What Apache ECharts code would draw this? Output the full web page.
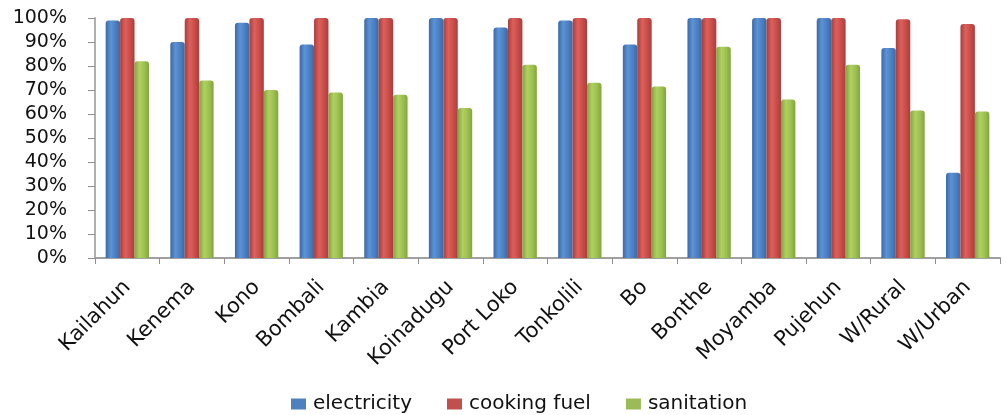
<!DOCTYPE html>
<html>
<head>
<meta charset="utf-8">
<script src="https://cdn.jsdelivr.net/npm/echarts@6/dist/echarts.min.js"></script>
<style>
  html, body { margin: 0; padding: 0; background: #ffffff; }
  #chart { width: 1006px; height: 415px; }
</style>
</head>
<body>
<div id="chart"></div>
<script>
// Household access by district (% of households)
const districts = ['Kailahun', 'Kenema', 'Kono', 'Bombali', 'Kambia', 'Koinadugu', 'Port Loko',
  'Tonkolili', 'Bo', 'Bonthe', 'Moyamba', 'Pujehun', 'W/Rural', 'W/Urban'];
const electricity = [99, 90, 98, 89, 100, 100, 96, 99, 89, 100, 100, 100, 87.5, 35.5];
const cookingFuel = [100, 100, 100, 100, 100, 100, 100, 100, 100, 100, 100, 100, 99.5, 97.5];
const sanitation = [82, 74, 70, 69, 68, 62.5, 80.5, 73, 71.5, 88, 66, 80.5, 61.5, 61];
const yTicks = [0, 10, 20, 30, 40, 50, 60, 70, 80, 90, 100];

// cylinder-like shading across each bar
function shade(dark, mid, light) {
  return {
    type: 'linear', x: 0, y: 0, x2: 1, y2: 0,
    colorStops: [
      { offset: 0, color: dark },
      { offset: 0.35, color: light },
      { offset: 0.7, color: mid },
      { offset: 1, color: dark }
    ]
  };
}

const seriesDefs = [
  { name: 'electricity', data: electricity, base: '#4F81BD', fill: shade('#3c6aa3', '#4a7fc1', '#5b93d6') },
  { name: 'cooking fuel', data: cookingFuel, base: '#C0504D', fill: shade('#a83e3b', '#c94c49', '#dc605c') },
  { name: 'sanitation', data: sanitation, base: '#9BBB59', fill: shade('#82a43f', '#9bc04e', '#b0d062') }
];

const chart = echarts.init(document.getElementById('chart'), null, { renderer: 'canvas' });
chart.setOption({
  animation: false,
  backgroundColor: '#ffffff',
  color: seriesDefs.map(s => s.base),
  grid: { left: 95, right: 6, top: 18, bottom: 157 },
  legend: {
    top: 389,
    left: 286,
    itemWidth: 15,
    itemHeight: 11,
    itemGap: 35,
    icon: 'rect',
    textStyle: { fontFamily: 'DejaVu Sans', fontSize: 20, color: '#111', padding: [0, 0, 0, 2] },
    data: seriesDefs.map(s => ({ name: s.name, itemStyle: { color: s.base } }))
  },
  xAxis: {
    type: 'category',
    data: districts,
    axisLine: { lineStyle: { color: '#a0a0a0', width: 2 } },
    axisTick: { show: true, length: 6, lineStyle: { color: '#909090' } },
    axisLabel: {
      rotate: 45,
      interval: 0,
      margin: 26,
      fontFamily: 'DejaVu Sans',
      fontSize: 21,
      color: '#111'
    }
  },
  yAxis: {
    type: 'value',
    min: 0,
    max: 100,
    interval: 10,
    splitLine: { show: false },
    axisLine: { show: true, lineStyle: { color: '#b0b0b0', width: 2 } },
    axisTick: { show: true, length: 7, lineStyle: { color: '#909090' } },
    axisLabel: {
      margin: 28,
      fontFamily: 'DejaVu Sans',
      fontSize: 19,
      color: '#111',
      formatter: v => (yTicks.includes(v) ? v + '%' : '')
    }
  },
  series: seriesDefs.map(s => ({
    name: s.name,
    type: 'bar',
    data: s.data,
    barGap: '0%',
    barCategoryGap: '33%',
    itemStyle: { color: s.fill, borderRadius: [3, 3, 0, 0] }
  }))
});
</script>
</body>
</html>
